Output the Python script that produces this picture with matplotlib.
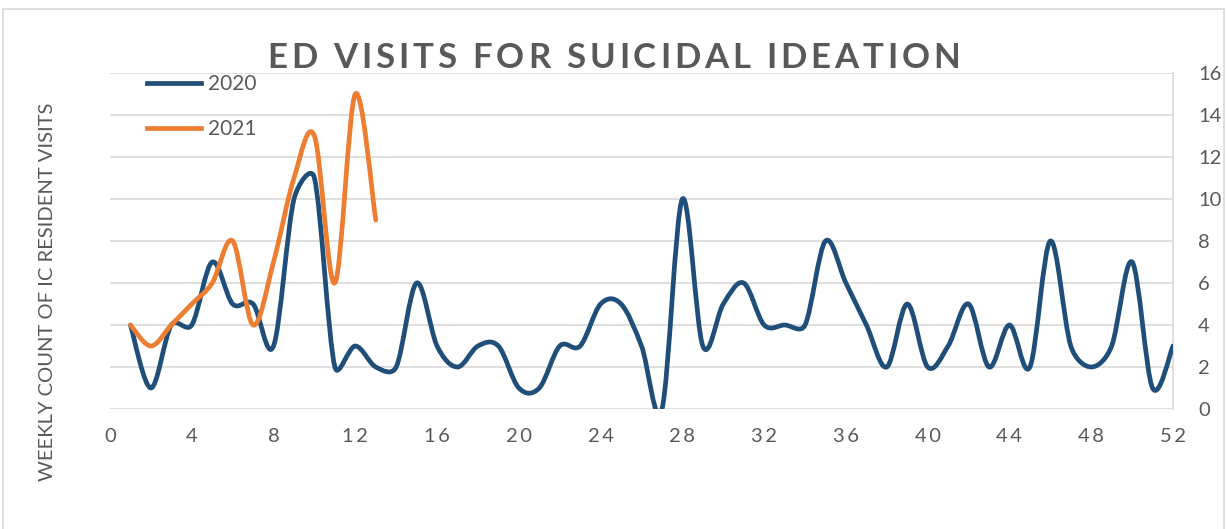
import numpy as np
import matplotlib.pyplot as plt
from matplotlib.path import Path
from matplotlib.patches import PathPatch, Rectangle
from matplotlib.lines import Line2D

plt.rcParams['font.family'] = ['Lato', 'DejaVu Sans']

# weekly ED visits for suicidal ideation, IC residents
weeks_2020 = list(range(1, 53))
visits_2020 = [4, 1, 4, 4, 7, 5, 5, 3, 10, 11,
               2, 3, 2, 2, 6, 3, 2, 3, 3, 1,
               1, 3, 3, 5, 5, 3, 0, 10, 3, 5,
               6, 4, 4, 4, 8, 6, 4, 2, 5, 2,
               3, 5, 2, 4, 2, 8, 3, 2, 3, 7,
               1, 3]
weeks_2021 = list(range(1, 14))
visits_2021 = [4, 3, 4, 5, 6, 8, 4, 7, 11, 13, 6, 15, 9]

x_ticks = list(range(0, 53, 4))
y_ticks = list(range(0, 17, 2))
title = 'ED VISITS FOR SUICIDAL IDEATION'

BLUE = '#1F4E79'
ORANGE = '#ED7D31'
GREY = '#595959'
GRID = '#D9D9D9'


def smooth_path(ax, x, y):
    # bezier through every point; control arms are 1/6 of the neighbour span,
    # shortened (in screen space) when the segment itself is short
    pts = np.column_stack([x, y]).astype(float)
    scr = ax.transData.transform(pts)
    n = len(pts)
    verts = [tuple(pts[0])]
    codes = [Path.MOVETO]
    for i in range(n - 1):
        a = i - 1 if i > 0 else i
        d = i + 2 if i + 2 < n else i + 1
        d12 = np.hypot(*(scr[i + 1] - scr[i]))
        d02 = np.hypot(*(scr[i + 1] - scr[a]))
        d13 = np.hypot(*(scr[d] - scr[i]))
        f1 = min(1 / 6, 0.5 * d12 / d02) if d02 > 0 else 0
        f2 = min(1 / 6, 0.5 * d12 / d13) if d13 > 0 else 0
        s1 = scr[i] + (scr[i + 1] - scr[a]) * f1
        s2 = scr[i + 1] - (scr[d] - scr[i]) * f2
        c1, c2 = ax.transData.inverted().transform([s1, s2])
        verts += [tuple(c1), tuple(c2), tuple(pts[i + 1])]
        codes += [Path.CURVE4] * 3
    return Path(verts, codes)


fig = plt.figure(figsize=(12.27, 5.29), dpi=100)
fig.patches.append(Rectangle((3 / 1227, -0.02), 1221 / 1227, 520 / 529 + 0.02,
                             transform=fig.transFigure, fill=False,
                             edgecolor=GRID, lw=1.2))

ax = fig.add_axes([110 / 1227, 1 - 409 / 529, 1063 / 1227, 336 / 529])
ax.set_xlim(0, 52)
ax.set_ylim(0, 16)

for wk, val, col in [(weeks_2020, visits_2020, BLUE), (weeks_2021, visits_2021, ORANGE)]:
    ax.add_patch(PathPatch(smooth_path(ax, wk, val), fill=False, edgecolor=col,
                           lw=3.4, capstyle='round', joinstyle='round', zorder=3))

ax.set_xticks(x_ticks)
ax.set_xticklabels(['\u2009'.join(str(t)) for t in x_ticks])
ax.set_yticks(y_ticks)
ax.yaxis.tick_right()
ax.tick_params(axis='both', length=0, labelsize=14.5, labelcolor=GREY)
ax.tick_params(axis='y', pad=18)
ax.tick_params(axis='x', pad=14)
for t in ax.get_yticklabels():
    t.set_horizontalalignment('left')

ax.grid(axis='y', color=GRID, lw=1.2)
ax.set_axisbelow(True)
for s in ['top', 'left', 'bottom']:
    ax.spines[s].set_visible(False)
ax.spines['right'].set_color(GRID)
ax.spines['right'].set_linewidth(1.2)

handles = [Line2D([], [], color=BLUE, lw=3.4), Line2D([], [], color=ORANGE, lw=3.4)]
ax.legend(handles, ['2020', '2021'], loc='upper left', bbox_to_anchor=(0.035, 0.996),
          frameon=False, fontsize=15, labelcolor=GREY, handlelength=2.6,
          handletextpad=0.3, labelspacing=1.2, borderpad=0, borderaxespad=0)

# spaced-out title, one letter at a time
renderer = fig.canvas.get_renderer()
title_kw = dict(fontsize=25, fontweight='bold', color=GREY)


def text_width(s):
    t = fig.text(0, 0, s, **title_kw)
    w = t.get_window_extent(renderer).width
    t.remove()
    return w


left_px, right_px, base_px = 267, 960, 68.5
full_w = text_width(title)
gap = (right_px - left_px - full_w) / (len(title) - 1)
for i, ch in enumerate(title):
    if ch == ' ':
        continue
    x0 = text_width(title[:i + 1]) - text_width(ch) + i * gap
    fig.text((left_px + x0) / 1227, 1 - base_px / 529, ch, ha='left', va='baseline',
             **title_kw)

fig.text(48 / 1227, 1 - 292 / 529, 'WEEKLY COUNT OF IC RESIDENT VISITS', rotation=90,
         ha='center', va='center', fontsize=14.5, color=GREY)

fig.savefig('out.png', dpi=100)
